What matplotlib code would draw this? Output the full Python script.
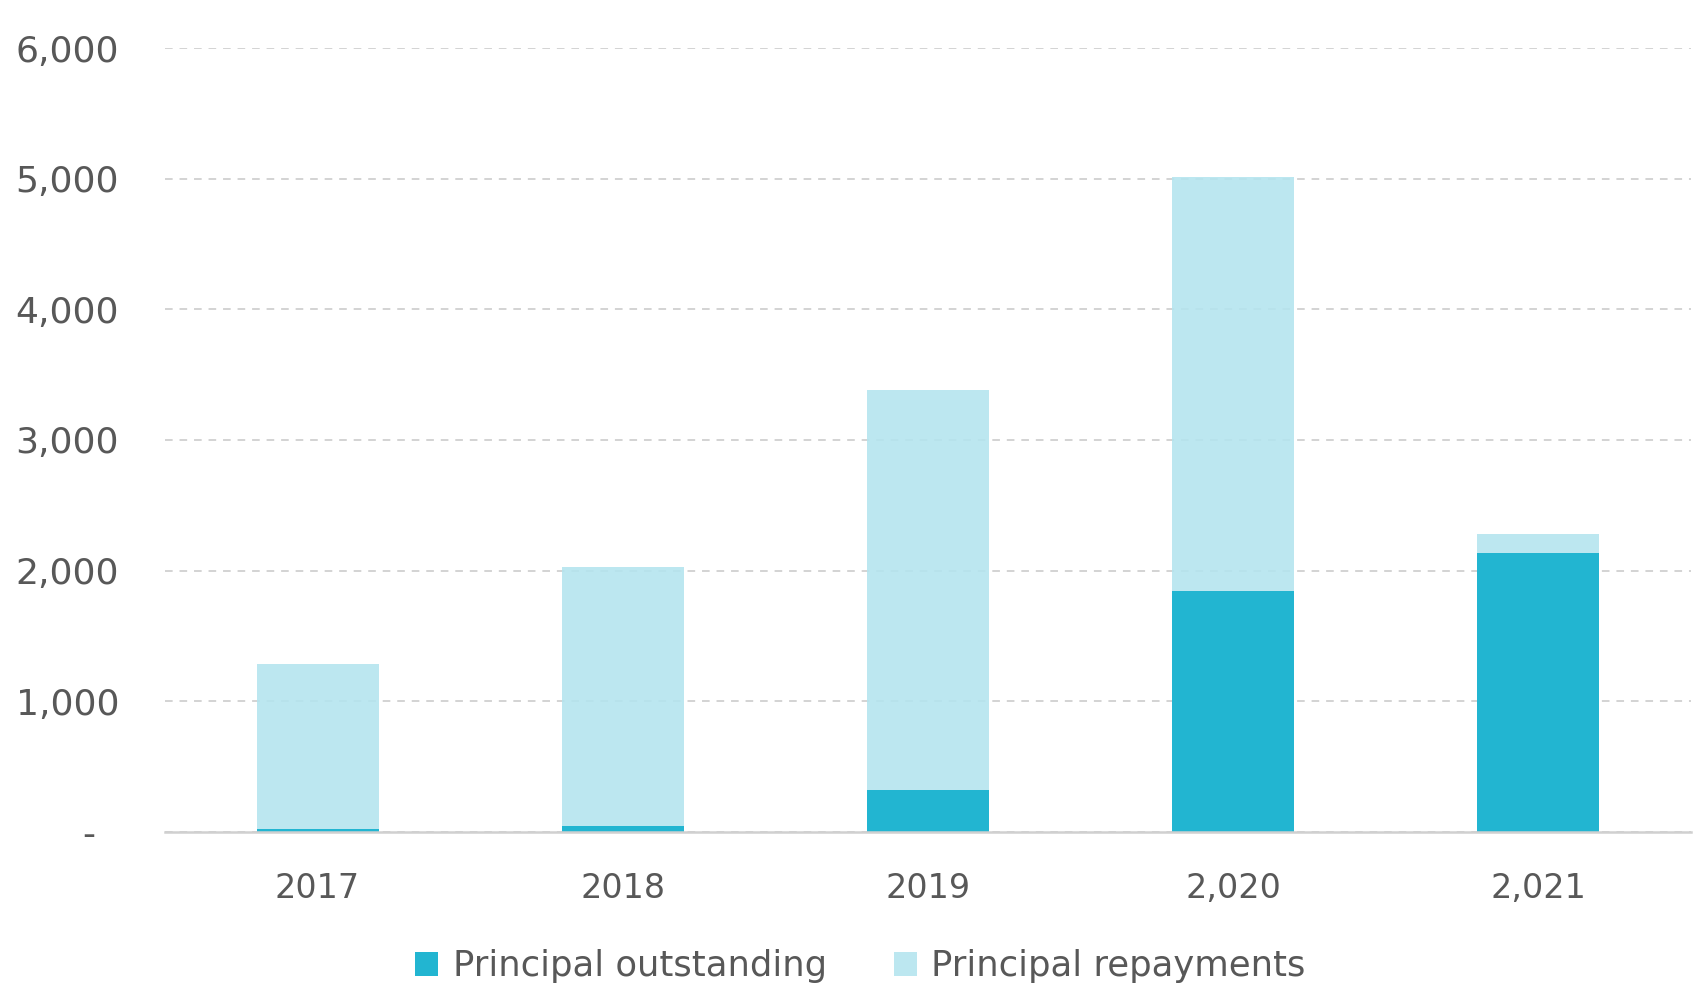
import matplotlib
matplotlib.use("Agg")
from matplotlib import pyplot as plt
from matplotlib.ticker import FuncFormatter
import numpy as np

years = ["2017", "2018", "2019", "2,020", "2,021"]
outstanding = [25, 45, 321, 1844, 2135]
repayments = [1260, 1985, 3061, 3167, 145]
y_ticks = [0, 1000, 2000, 3000, 4000, 5000, 6000]

dark = "#22b5d1"
light = "#b3e4ef"
text_col = "#585858"

plt.rcParams["font.family"] = ["DejaVu Sans"]

fig = plt.figure(figsize=(17.04, 9.94), dpi=100)
ax = fig.add_axes([0.0968, 0.163, 0.8956, 0.7887])

x = np.arange(len(years))
ax.bar(x, outstanding, width=0.4, color=dark, zorder=2, label="Principal outstanding")
ax.bar(x, repayments, width=0.4, bottom=outstanding, color=light, alpha=0.88,
       zorder=2, label="Principal repayments")

ax.set_xlim(-0.5, len(years) - 0.5)
ax.set_ylim(0, 6000)
ax.set_yticks(y_ticks)
ax.yaxis.set_major_formatter(FuncFormatter(lambda v, p: "-  " if v == 0 else f"{v:,.0f}"))
ax.set_xticks(x)
ax.set_xticklabels(years)

ax.grid(axis="y", color="#c8c8c8", linestyle=(0, (5, 4.5)), linewidth=1.1, zorder=1)
ax.set_axisbelow(True)
for s in ["top", "right", "left"]:
    ax.spines[s].set_visible(False)
ax.spines["bottom"].set_color("#d0d0d0")
ax.spines["bottom"].set_linewidth(1.8)
ax.spines["bottom"].set_zorder(3)

ax.tick_params(axis="y", length=0, pad=33, labelsize=26, labelcolor=text_col)
ax.tick_params(axis="x", length=0, pad=29, labelsize=24, labelcolor=text_col)

fig.legend(loc="center", bbox_to_anchor=(0.505, 0.028), ncol=2, frameon=False,
           fontsize=25.5, labelcolor=text_col, handlelength=0.65, handleheight=0.65,
           handletextpad=0.4, columnspacing=1.9)

fig.savefig("out.png", dpi=100)
